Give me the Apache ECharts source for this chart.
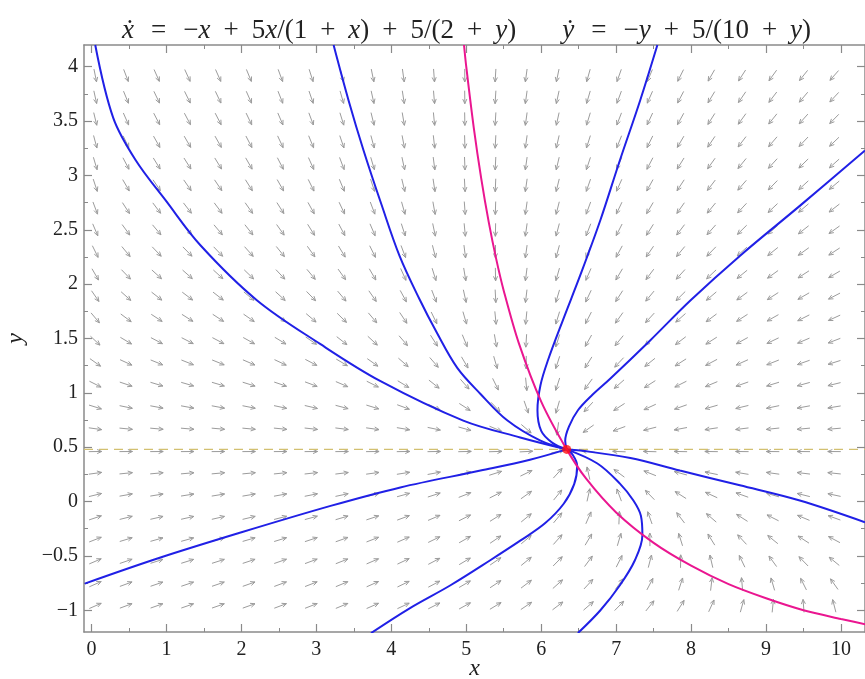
<!DOCTYPE html>
<html>
<head>
<meta charset="utf-8">
<script src="https://cdn.jsdelivr.net/npm/echarts@6/dist/echarts.min.js"></script>
<style>
  html, body { margin: 0; padding: 0; background: #ffffff; }
  #chart { width: 865px; height: 679px; }
</style>
</head>
<body>
<div id="chart"></div>
<script>
// Axis ticks
const xTickValues = [0, 1, 2, 3, 4, 5, 6, 7, 8, 9, 10];
const xMinorValues = [0.5, 1.5, 2.5, 3.5, 4.5, 5.5, 6.5, 7.5, 8.5, 9.5];
const yTickValues = [-1, -0.5, 0, 0.5, 1, 1.5, 2, 2.5, 3, 3.5, 4];
const yMinorValues = [-0.75, -0.25, 0.25, 0.75, 1.25, 1.75, 2.25, 2.75, 3.25, 3.75];

// Direction-field sample positions
const fieldX = [0.05, 0.46, 0.87, 1.28, 1.69, 2.10, 2.52, 2.93, 3.34, 3.75, 4.16, 4.57, 4.98,
                5.39, 5.80, 6.22, 6.63, 7.04, 7.45, 7.86, 8.27, 8.68, 9.09, 9.50, 9.91];
const fieldY = [-0.96, -0.76, -0.55, -0.35, -0.15, 0.06, 0.26, 0.46, 0.67, 0.87, 1.08, 1.28, 1.48,
                1.69, 1.89, 2.09, 2.30, 2.50, 2.70, 2.91, 3.11, 3.31, 3.52, 3.72, 3.92];

// The system in the title
function xRate(x, y) { return -x + 5 * x / (1 + x) + 5 / (2 + y); }
function yRate(x, y) { return -y + 5 / (10 + y); }

// Trajectories (x, y)
const trajA = [[0.05, 4.20], [0.29, 3.53], [0.59, 3.14], [0.99, 2.77], [1.45, 2.36], [2.21, 1.85],
               [3.05, 1.45], [3.85, 1.11], [4.96, 0.745], [5.72, 0.59], [6.34, 0.48]];
const trajB = [[3.23, 4.20], [3.43, 3.69], [3.63, 3.23], [3.87, 2.73], [4.11, 2.26], [4.37, 1.87],
               [4.61, 1.55], [4.88, 1.23], [5.19, 0.99], [5.55, 0.745], [5.99, 0.56], [6.34, 0.48]];
const trajC = [[7.55, 4.20], [7.32, 3.69], [7.05, 3.14], [6.79, 2.59], [6.52, 2.08], [6.29, 1.67],
               [6.09, 1.30], [5.99, 1.07], [5.95, 0.84], [6.00, 0.65], [6.15, 0.54], [6.34, 0.48]];
const trajH = [[10.32, 3.23], [9.45, 2.72], [8.65, 2.26], [7.99, 1.85], [7.45, 1.48], [6.92, 1.13],
               [6.68, 0.98], [6.49, 0.84], [6.37, 0.69], [6.32, 0.56], [6.34, 0.48]];
const trajD = [[10.32, -0.19], [9.45, 0.01], [8.65, 0.15], [7.85, 0.285], [7.19, 0.40], [6.52, 0.47], [6.34, 0.48]];
const trajE = [[6.49, -1.21], [6.79, -1.00], [7.05, -0.77], [7.25, -0.54], [7.35, -0.31], [7.33, -0.13],
               [7.23, 0.01], [7.05, 0.165], [6.75, 0.35], [6.34, 0.48]];
const trajF = [[3.73, -1.21], [4.25, -0.98], [4.79, -0.77], [5.32, -0.54], [5.72, -0.36], [6.05, -0.20],
               [6.30, -0.02], [6.44, 0.16], [6.48, 0.33], [6.42, 0.43], [6.34, 0.48]];
const trajG = [[-0.09, -0.755], [0.92, -0.515], [1.99, -0.285], [3.19, -0.04], [4.12, 0.13], [5.19, 0.285],
               [5.85, 0.385], [6.34, 0.48]];
const trajectories = [trajA, trajB, trajC, trajH, trajD, trajE, trajF, trajG];

// Nullclines and equilibrium
const xNullcline = [[4.97, 4.20], [5.00, 4.00], [5.10, 3.44], [5.20, 2.97], [5.30, 2.57], [5.40, 2.23],
                    [5.50, 1.94], [5.70, 1.46], [6.00, 0.92], [6.34, 0.48], [6.60, 0.21], [7.00, -0.10],
                    [7.50, -0.38], [8.00, -0.59], [8.50, -0.76], [9.00, -0.89], [9.50, -1.00],
                    [10.00, -1.08], [10.40, -1.14]];
const yNullclineLevel = 0.48;
const equilibrium = [6.34, 0.48];

const X_MIN = -0.1, X_MAX = 10.32, Y_MIN = -1.2, Y_MAX = 4.2;

const fieldData = [];
fieldX.forEach(function (x) {
  fieldY.forEach(function (y) {
    fieldData.push([x, y, xRate(x, y), yRate(x, y)]);
  });
});

const serif = "'Liberation Serif', 'DejaVu Serif', serif";
const axisGray = '#8a8a8a';
const textColor = '#222222';
const fmtMinus = function (v) { return String(v).replace('-', '\u2212'); };

function tickAxis(extra) {
  return Object.assign({
    type: 'value',
    splitLine: { show: false },
    axisLine: { show: false, onZero: false },
    axisLabel: { show: false },
    axisTick: { show: false }
  }, extra);
}

// Title: math-style text with explicit spacing between the terms
const TS = 27;
const titleRich = {
  i: { fontFamily: serif, fontStyle: 'italic', fontWeight: 'normal', fontSize: TS, color: textColor },
  r: { fontFamily: serif, fontWeight: 'normal', fontSize: TS, color: textColor },
  a: { fontFamily: serif, fontSize: TS, width: 17 },
  b: { fontFamily: serif, fontSize: TS, width: 13 },
  g: { fontFamily: serif, fontSize: TS, width: 46 }
};
const titleText =
  '{i|ẋ}{a| }{r|=}{a| }{r|−}{i|x}{b| }{r|+}{b| }{r|5}{i|x}{r|/(1}{b| }{r|+}{b| }{i|x}{r|)}' +
  '{b| }{r|+}{b| }{r|5/(2}{b| }{r|+}{b| }{i|y}{r|)}' +
  '{g| }' +
  '{i|ẏ}{a| }{r|=}{a| }{r|−}{i|y}{b| }{r|+}{b| }{r|5/(10}{b| }{r|+}{b| }{i|y}{r|)}';

const arrowColor = '#9c9c9c';
const lineAxis = { show: true, onZero: false, lineStyle: { color: axisGray, width: 1.5 } };
const majorTick = function (vals) {
  return { show: true, inside: true, length: 8, customValues: vals, lineStyle: { color: axisGray, width: 1.2 } };
};
const minorTick = function (vals) {
  return { show: true, inside: true, length: 4, customValues: vals, lineStyle: { color: axisGray, width: 1 } };
};

const option = {
  animation: false,
  backgroundColor: '#ffffff',
  title: {
    left: 117,
    top: 12,
    text: titleText,
    textStyle: { fontSize: TS, fontWeight: 'normal', color: textColor, rich: titleRich }
  },
  grid: { left: 84, right: 0, top: 45, bottom: 47, containLabel: false, outerBoundsMode: 'none' },
  xAxis: [
    tickAxis({
      min: X_MIN, max: X_MAX, position: 'bottom',
      axisLine: lineAxis,
      axisTick: majorTick(xTickValues),
      axisLabel: { show: true, customValues: xTickValues, formatter: fmtMinus, margin: 8,
                   fontFamily: serif, fontSize: 20, color: textColor },
      name: 'x', nameLocation: 'middle', nameGap: 25, nameMoveOverlap: false,
      nameTextStyle: { fontFamily: serif, fontStyle: 'italic', fontSize: 24, color: textColor }
    }),
    tickAxis({ min: X_MIN, max: X_MAX, position: 'bottom', axisTick: minorTick(xMinorValues) }),
    tickAxis({ min: X_MIN, max: X_MAX, position: 'top', axisLine: lineAxis, axisTick: majorTick(xTickValues) }),
    tickAxis({ min: X_MIN, max: X_MAX, position: 'top', axisTick: minorTick(xMinorValues) })
  ],
  yAxis: [
    tickAxis({
      min: Y_MIN, max: Y_MAX, position: 'left',
      axisLine: lineAxis,
      axisTick: majorTick(yTickValues),
      axisLabel: { show: true, customValues: yTickValues, formatter: fmtMinus, margin: 6,
                   fontFamily: serif, fontSize: 20, color: textColor },
      name: 'y', nameLocation: 'middle', nameGap: 56, nameRotate: 90, nameMoveOverlap: false,
      nameTextStyle: { fontFamily: serif, fontStyle: 'italic', fontSize: 24, color: textColor }
    }),
    tickAxis({ min: Y_MIN, max: Y_MAX, position: 'left', axisTick: minorTick(yMinorValues) }),
    tickAxis({ min: Y_MIN, max: Y_MAX, position: 'right', axisLine: lineAxis, axisTick: majorTick(yTickValues) }),
    tickAxis({ min: Y_MIN, max: Y_MAX, position: 'right', axisTick: minorTick(yMinorValues) })
  ],
  series: [
    {
      // direction field arrows, all of equal length
      type: 'custom',
      xAxisIndex: 0, yAxisIndex: 0,
      clip: true,
      silent: true,
      dimensions: ['x', 'y', 'u', 'v'],
      encode: { x: 0, y: 1 },
      data: fieldData,
      renderItem: function (params, api) {
        const x = api.value(0), y = api.value(1), u = api.value(2), v = api.value(3);
        const p = api.coord([x, y]);
        const q = api.coord([x + u * 1e-3, y + v * 1e-3]);
        let dx = q[0] - p[0], dy = q[1] - p[1];
        const n = Math.hypot(dx, dy) || 1;
        dx /= n; dy /= n;
        const L = 13, H = 5, a = 0.42;
        const c = Math.cos(a), s = Math.sin(a);
        const sx = p[0] - dx * L / 2, sy = p[1] - dy * L / 2;
        const ex = p[0] + dx * L / 2, ey = p[1] + dy * L / 2;
        const b1 = [ex - H * (dx * c - dy * s), ey - H * (dx * s + dy * c)];
        const b2 = [ex - H * (dx * c + dy * s), ey - H * (-dx * s + dy * c)];
        return {
          type: 'group',
          children: [
            { type: 'line', shape: { x1: sx, y1: sy, x2: ex, y2: ey },
              style: { stroke: arrowColor, lineWidth: 1 } },
            { type: 'polyline', shape: { points: [b1, [ex, ey], b2] },
              style: { stroke: arrowColor, fill: null, lineWidth: 1 } }
          ]
        };
      },
      z: 1
    },
    {
      // y-nullcline
      type: 'line',
      data: [[X_MIN, yNullclineLevel], [X_MAX, yNullclineLevel]],
      showSymbol: false,
      silent: true,
      lineStyle: { color: '#d2c070', width: 1.2, type: [9, 6] },
      z: 2
    }
  ].concat(trajectories.map(function (t) {
    return {
      type: 'line',
      data: t,
      showSymbol: false,
      silent: true,
      smooth: 0.35,
      clip: true,
      lineStyle: { color: '#2020e6', width: 2 },
      z: 3
    };
  })).concat([
    {
      // x-nullcline
      type: 'line',
      data: xNullcline,
      showSymbol: false,
      silent: true,
      smooth: 0.3,
      clip: true,
      lineStyle: { color: '#ea1690', width: 2 },
      z: 4
    },
    {
      type: 'scatter',
      data: [equilibrium],
      symbol: 'circle',
      symbolSize: 9,
      itemStyle: { color: '#ff1010' },
      silent: true,
      z: 5
    }
  ])
};

const chart = echarts.init(document.getElementById('chart'), null, { renderer: 'canvas' });
chart.setOption(option);
</script>
</body>
</html>
